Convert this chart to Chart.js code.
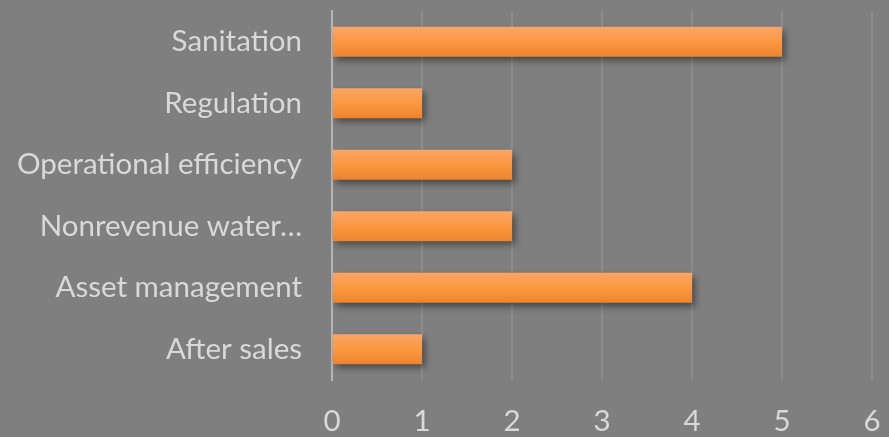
<!DOCTYPE html>
<html>
<head>
<meta charset="utf-8">
<script src="https://cdn.jsdelivr.net/npm/chart.js@4.4.0/dist/chart.umd.min.js"></script>
<style>
  html, body { margin: 0; padding: 0; background: #7f7f7f; }
  #wrap { width: 889px; height: 437px; }
</style>
</head>
<body>
<div id="wrap"><canvas id="barChart"></canvas></div>
<script>
const categories = ['Sanitation', 'Regulation', 'Operational efficiency', 'Nonrevenue water\u2026', 'Asset management', 'After sales'];
const counts = [5, 1, 2, 2, 4, 1];
const tickValues = [0, 1, 2, 3, 4, 5, 6];

const barShare = 0.49;

// soft drop shadow under the bars
const barShadow = {
    id: 'barShadow',
    beforeDatasetsDraw(chart) {
        const c = chart.ctx;
        c.save();
        c.shadowColor = 'rgba(0,0,0,0.45)';
        c.shadowBlur = 7;
        c.shadowOffsetX = 3;
        c.shadowOffsetY = 4;
    },
    afterDatasetsDraw(chart) {
        chart.ctx.restore();
    }
};

document.addEventListener('DOMContentLoaded', () => {
    const ctx = document.getElementById('barChart').getContext('2d');

    const config = {
        type: 'bar',
        data: {
            labels: categories,
            datasets: [{
                data: counts,
                backgroundColor: function(context) {
                    const chart = context.chart;
                    const yScale = chart.scales.y;
                    if (!yScale || yScale.height === undefined) return '#f9963f';
                    const mid = yScale.getPixelForValue(context.dataIndex);
                    const half = (yScale.height / categories.length) * barShare / 2;
                    const g = chart.ctx.createLinearGradient(0, mid - half, 0, mid + half);
                    g.addColorStop(0, '#fba566');
                    g.addColorStop(0.5, '#fb9840');
                    g.addColorStop(1, '#ec842e');
                    return g;
                },
                borderWidth: 0,
                barPercentage: 0.7,
                categoryPercentage: 0.7
            }]
        },
        options: {
            indexAxis: 'y',
            responsive: true,
            maintainAspectRatio: false,
            animation: false,
            layout: { padding: 0 },
            scales: {
                x: {
                    min: 0,
                    max: 6,
                    afterBuildTicks: (scale) => { scale.ticks = tickValues.map(v => ({ value: v })); },
                    afterFit: (scale) => {
                        scale.height = 57;
                        scale.paddingLeft = 0;
                        scale.paddingRight = 17;
                    },
                    grid: { color: '#8c8c8c', lineWidth: 2, drawTicks: false },
                    border: { display: false },
                    ticks: {
                        color: '#d9d9d9',
                        padding: 24,
                        font: { family: 'Lato', size: 29.5 }
                    }
                },
                y: {
                    afterFit: (scale) => {
                        scale.width = 332;
                        scale.paddingTop = 11;
                        scale.paddingBottom = 0;
                    },
                    grid: { display: false, drawTicks: false },
                    border: { display: true, color: '#b5b5b5', width: 2 },
                    ticks: {
                        color: '#d9d9d9',
                        padding: 30,
                        font: { family: 'Lato', size: 29.5 }
                    }
                }
            },
            plugins: {
                legend: { display: false },
                tooltip: { enabled: false }
            }
        },
        plugins: [barShadow]
    };

    new Chart(ctx, config);
});
</script>
</body>
</html>
